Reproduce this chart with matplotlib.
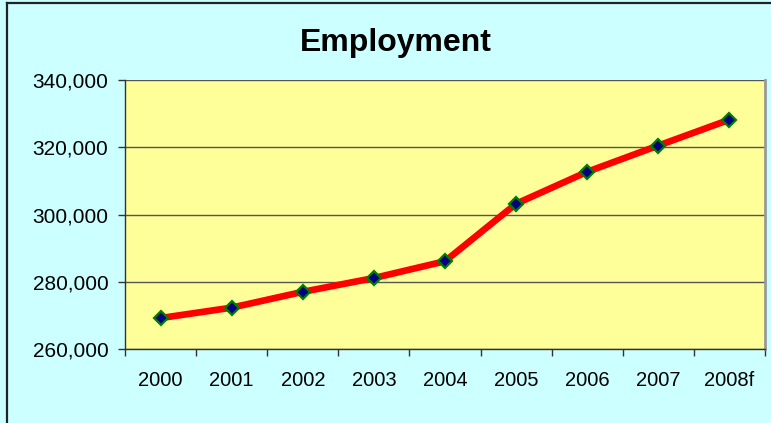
import matplotlib
matplotlib.use("Agg")
import matplotlib.pyplot as plt
from matplotlib.lines import Line2D
from matplotlib.ticker import FuncFormatter, MultipleLocator

years = ["2000", "2001", "2002", "2003", "2004", "2005", "2006", "2007", "2008f"]
employment = [269200, 272300, 277000, 281100, 286100, 303200, 312700, 320500, 328200]

plt.rcParams['font.family'] = ['Liberation Sans', 'DejaVu Sans']

fig = plt.figure(figsize=(7.71, 4.23), dpi=100)
fig.patch.set_facecolor('#CCFFFF')
# border on top and left only (as visible in the reference crop)
fig.lines.append(Line2D([6.5/771, 6.5/771], [0, 1 - 3.5/423], transform=fig.transFigure,
                        color='#222222', linewidth=1.6))
fig.lines.append(Line2D([6.5/771, 1], [1 - 3.5/423, 1 - 3.5/423], transform=fig.transFigure,
                        color='#222222', linewidth=1.6))

ax = fig.add_axes([125/771, 1 - 349/423, 640/771, 269/423])
ax.set_facecolor('#FFFF99')

x = list(range(len(years)))
ax.plot(x, employment, color='#FF0000', linewidth=4.8, marker='D', markersize=7.5,
        markerfacecolor='#000080', markeredgecolor='#008000', markeredgewidth=1.6, zorder=3,
        solid_capstyle='round')

ax.set_xlim(-0.5, len(years) - 0.5)
ax.set_ylim(260000, 340000)
ax.yaxis.set_major_locator(MultipleLocator(20000))
ax.yaxis.set_major_formatter(FuncFormatter(lambda v, p: f"{int(v):,}"))
ax.grid(axis='y', color='#555555', linewidth=1)
ax.set_axisbelow(True)

ax.set_xticks([i - 0.5 for i in range(len(years) + 1)])
ax.set_xticklabels([])
ax.set_xticks(x, minor=True)
ax.set_xticklabels(years, minor=True)
ax.tick_params(axis='x', which='major', length=5, color='#333333', width=1)
ax.tick_params(axis='x', which='minor', length=0, labelsize=14.5, pad=16)
ax.tick_params(axis='y', length=5, color='#333333', width=1, labelsize=15, pad=7)

for s in ['left', 'bottom']:
    ax.spines[s].set_color('#333333')
    ax.spines[s].set_linewidth(1)
ax.spines['top'].set_visible(False)
ax.spines['right'].set_color('#999999')
ax.spines['right'].set_linewidth(2)

fig.text(396/771, 1 - 43/423, "Employment", ha='center', va='center', fontsize=23, fontweight='bold')

fig.savefig("out.png", dpi=100, facecolor=fig.get_facecolor())
